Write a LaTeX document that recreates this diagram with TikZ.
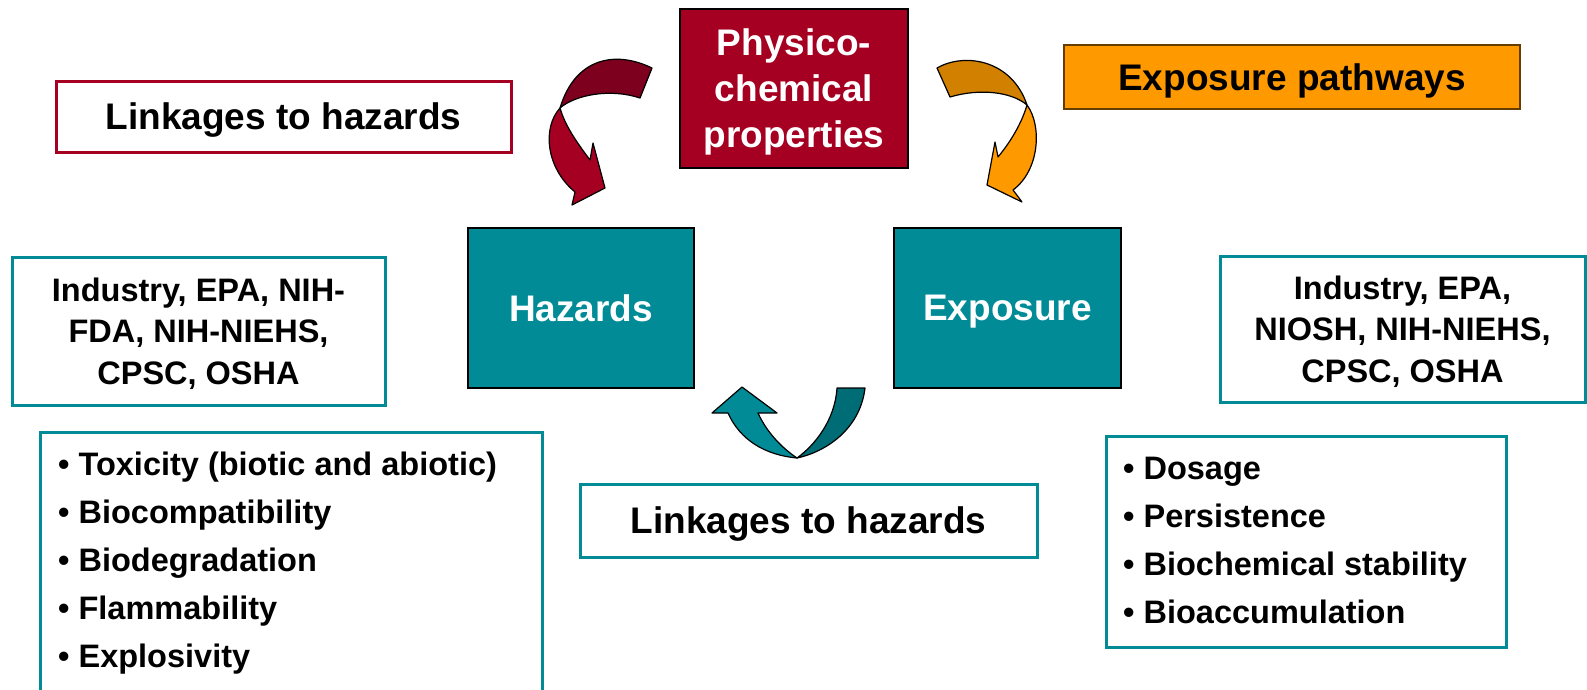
\documentclass[tikz,border=0pt]{standalone}
\usepackage{fontspec}
\setmainfont{Liberation Sans}
\definecolor{burg}{RGB}{165,0,33}
\definecolor{burgdark}{RGB}{125,0,30}
\definecolor{orng}{RGB}{255,153,0}
\definecolor{orngdark}{RGB}{210,128,0}
\definecolor{tealc}{RGB}{0,139,150}
\definecolor{tealdark}{RGB}{0,108,118}
\begin{document}
\begin{tikzpicture}[x=1pt,y=-1pt,
  box/.style={draw, rectangle, inner sep=0pt, text depth=0pt, align=center, font=\bfseries\fontsize{37}{46}\selectfont},
  solidbox/.style={box, draw=black, line width=1.2pt, text=white},
  outlinebox/.style={box, fill=white, line width=3pt},
  agency/.style={outlinebox, draw=tealc, font=\bfseries\fontsize{32.5}{41.5}\selectfont},
  listtext/.style={anchor=west, inner sep=0pt, align=left, font=\bfseries\fontsize{32.5}{48}\selectfont},
  ribbon/.style={draw=black, line width=1.2pt, line join=round}]
\useasboundingbox (0,0) rectangle (1587,689);

% boxes
\node[solidbox, fill=burg, minimum width=228pt, minimum height=159pt] (phys) at (794,88.5) {Physico-\\chemical\\properties};
\node[outlinebox, draw=burg, minimum width=455pt, minimum height=71pt] (linktop) at (283.5,116.5) {Linkages to hazards};
\node[box, fill=orng, draw=black!60!orng, line width=1.5pt, minimum width=456pt, minimum height=64pt] (exppath) at (1292,77) {Exposure pathways};
\node[solidbox, fill=tealc, minimum width=226pt, minimum height=160pt] (hazards) at (581,308) {Hazards};
\node[solidbox, fill=tealc, minimum width=227pt, minimum height=160pt] (exposure) at (1007.5,308) {Exposure};
\node[agency, minimum width=373pt, minimum height=148pt] (agl) at (198.5,331) {Industry, EPA, NIH-\\FDA, NIH-NIEHS,\\CPSC, OSHA};
\node[agency, minimum width=365pt, minimum height=146pt] (agr) at (1402.5,329) {Industry, EPA,\\NIOSH, NIH-NIEHS,\\CPSC, OSHA};
\node[outlinebox, draw=tealc, minimum width=502pt, minimum height=262pt] (listl) at (291,563) {};
\node[listtext] (listltext) at (58,563) {\textbullet\ Toxicity (biotic and abiotic)\\\textbullet\ Biocompatibility\\\textbullet\ Biodegradation\\\textbullet\ Flammability\\\textbullet\ Explosivity};
\node[outlinebox, draw=tealc, minimum width=457pt, minimum height=73pt] (linkbot) at (808.5,520.5) {Linkages to hazards};
\node[outlinebox, draw=tealc, minimum width=400pt, minimum height=211pt] (listr) at (1306,542) {};
\node[listtext] (listrtext) at (1123,540) {\textbullet\ Dosage\\\textbullet\ Persistence\\\textbullet\ Biochemical stability\\\textbullet\ Bioaccumulation};

% red curved arrow (phys -> hazards)
\draw[ribbon, fill=burgdark] (652,68) .. controls (615,50) and (575,58) .. (560,108)
  .. controls (575,95) and (610,88) .. (640,98) -- cycle;
\draw[ribbon, fill=burg] (560,108) .. controls (542,128) and (546,168) .. (575,192)
  -- (572,205) -- (605,188) -- (593,143) -- (590,160)
  .. controls (575,140) and (565,125) .. (560,108) -- cycle;

% orange curved arrow (phys -> exposure)
\draw[ribbon, fill=orngdark] (937,68) .. controls (965,52) and (1012,60) .. (1027,105)
  .. controls (1012,92) and (980,88) .. (950,97) -- cycle;
\draw[ribbon, fill=orng] (1027,105) .. controls (1042,125) and (1040,170) .. (1013,190)
  -- (1022,202) -- (987,185) -- (995,142) -- (998,157)
  .. controls (1012,140) and (1022,122) .. (1027,105) -- cycle;

% teal U-turn arrow (exposure -> hazards)
\draw[ribbon, fill=tealdark] (797,458) .. controls (825,452) and (860,430) .. (865,388)
  -- (837,388) .. controls (835,420) and (815,445) .. (797,458) -- cycle;
\draw[ribbon, fill=tealc] (797,458) .. controls (765,455) and (740,440) .. (728,413)
  -- (712,413) -- (742,387) -- (777,413) -- (758,413)
  .. controls (768,435) and (785,450) .. (797,458) -- cycle;
\end{tikzpicture}
\end{document}
